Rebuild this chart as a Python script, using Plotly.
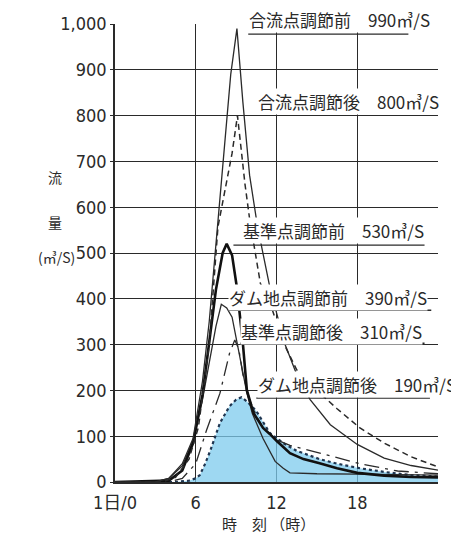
import plotly.graph_objects as go

# ---------------- data (hours from 1日 0時, discharge m3/s) ----------------
# 合流点調節前 (thin solid)
conf_before_h = [0, 3, 4, 5, 5.8, 6.5, 7, 7.6, 8.1, 8.6, 9.06, 9.5, 10, 10.5, 10.9, 11.5, 12, 12.6, 13.5, 14.5, 16, 18, 20, 22, 24]
conf_before_v = [0, 0, 8, 40, 95, 220, 350, 557, 720, 890, 990, 830, 670, 575, 513, 426, 370, 303, 235, 180, 125, 82, 52, 36, 26]
# 合流点調節後 (dashed)
conf_after_h = [0, 3.5, 4.5, 5.5, 6.2, 7, 7.65, 8.2, 8.7, 9.1, 9.4, 9.66, 10, 10.8, 11.7, 12.5, 13.5, 15, 16.5, 18.2, 20, 22, 24]
conf_after_v = [0, 0, 10, 50, 120, 300, 557, 644, 718, 800, 720, 650, 575, 434, 375, 305, 245, 200, 160, 118, 85, 55, 33]
# 基準点調節前 (thick solid)
base_before_h = [0, 4, 5, 5.8, 6.5, 7, 7.5, 8, 8.3, 8.7, 9.05, 9.5, 9.8, 10.3, 11, 11.5, 12, 13, 14, 15.2, 16.5, 18, 20, 22, 24]
base_before_v = [0, 3, 25, 85, 190, 300, 420, 500, 520, 495, 426, 303, 200, 150, 118, 105, 90, 63, 50, 41, 30, 20, 14, 11, 10]
# ダム地点調節前 (thin solid)
dam_before_h = [0, 3, 4, 5, 5.8, 6.5, 7, 7.5, 7.9, 8.3, 8.7, 9.3, 9.8, 10.2, 11, 11.9, 12.5, 13, 15, 18, 21, 24]
dam_before_v = [0, 0, 8, 35, 90, 180, 260, 340, 388, 380, 360, 266, 194, 150, 95, 45, 30, 20, 18, 17, 16, 15]
# 基準点調節後 (dash-dot)
base_after_h = [0, 4, 5, 6, 6.8, 7.8, 8.5, 8.9, 9.2, 9.5, 10, 10.5, 11, 12, 13, 15.2, 18.2, 21, 24]
base_after_v = [0, 0, 8, 40, 113, 194, 280, 310, 290, 235, 180, 145, 118, 92, 80, 63, 40, 24, 18]
# ダム地点調節後 (dotted, filled)
dam_after_h = [0, 4.5, 5.5, 6, 6.3, 6.7, 7.1, 7.8, 8.5, 9.0, 9.4, 9.8, 10.5, 11.5, 12.5, 13.5, 15.2, 16.5, 18.2, 20, 22, 24]
dam_after_v = [0, 0, 3, 8, 15, 40, 70, 129, 165, 180, 185, 176, 155, 107, 85, 68, 50, 40, 30, 22, 15, 12]

x_tickvals = [0, 6, 12, 18, 24]
x_ticktext = ["1日/0", "6", "12", "18", "2日/0"]
y_tickvals = [0, 100, 200, 300, 400, 500, 600, 700, 800, 900, 1000]
y_ticktext = ["0", "100", "200", "300", "400", "500", "600", "700", "800", "900", "1,000"]

# labels: name, peak text, anchor hour, anchor value, underline (h0, h1, v) or None
label_names = ["合流点調節前", "合流点調節後", "基準点調節前", "ダム地点調節前", "基準点調節後", "ダム地点調節後"]
label_peaks = ["990", "800", "530", "390", "310", "190"]
label_x = [9.88, 10.55, 9.43, 8.40, 9.29, 10.55]
label_y = [1009, 830, 550, 402, 328, 212]
underline_x0 = [9.9, None, 8.8, 8.4, 9.3, 10.5]
underline_x1 = [21.8, None, 23.0, 23.5, 23.0, 23.4]
underline_y = [978, None, 517, 375, 303, 183]

Y_MAX = 1000
INK = "#2a2a2a"
NARROW = "Liberation Sans Narrow, DejaVu Sans Condensed, Noto Sans CJK JP, sans-serif"
CJK = "Noto Sans CJK JP, sans-serif"

fig = go.Figure()

fig.add_trace(go.Scatter(x=dam_after_h, y=dam_after_v, mode="lines", fill="tozeroy",
                         fillcolor="rgba(125,203,238,0.75)",
                         line=dict(color="#1f3550", width=2.2, dash="dot")))
fig.add_trace(go.Scatter(x=base_after_h, y=base_after_v, mode="lines",
                         line=dict(color=INK, width=1.3, dash="longdashdot")))
fig.add_trace(go.Scatter(x=dam_before_h, y=dam_before_v, mode="lines",
                         line=dict(color=INK, width=1.3)))
fig.add_trace(go.Scatter(x=base_before_h, y=base_before_v, mode="lines",
                         line=dict(color="#111111", width=2.6)))
fig.add_trace(go.Scatter(x=conf_after_h, y=conf_after_v, mode="lines",
                         line=dict(color=INK, width=1.5, dash="6px,4px")))
fig.add_trace(go.Scatter(x=conf_before_h, y=conf_before_v, mode="lines",
                         line=dict(color=INK, width=1.3)))

for i, name in enumerate(label_names):
    if underline_y[i] is not None:
        fig.add_shape(type="line", xref="x", yref="y",
                      x0=underline_x0[i], x1=underline_x1[i], y0=underline_y[i], y1=underline_y[i],
                      line=dict(color=INK, width=1.3))
    fig.add_annotation(x=label_x[i], y=label_y[i] / Y_MAX, xref="x", yref="paper",
                       xanchor="left", yanchor="middle", showarrow=False,
                       text=name + "　" + label_peaks[i] + "㎥/S",
                       font=dict(family=CJK, size=17, color=INK),
                       bgcolor="white", borderpad=0)

# y axis title pieces
fig.add_annotation(x=-0.215, y=666 / Y_MAX, xref="paper", yref="paper", showarrow=False,
                   text="流", font=dict(family=CJK, size=14, color=INK))
fig.add_annotation(x=-0.215, y=568 / Y_MAX, xref="paper", yref="paper", showarrow=False,
                   text="量", font=dict(family=CJK, size=14, color=INK))
fig.add_annotation(x=-0.245, y=491 / Y_MAX, xref="paper", yref="paper", showarrow=False,
                   text="(㎥/S)", font=dict(family=CJK, size=14, color=INK))
# x axis title
fig.add_annotation(x=11.4, y=-0.09, xref="x", yref="paper", showarrow=False,
                   xanchor="center", yanchor="middle",
                   text="時　刻 （時）", font=dict(family=CJK, size=15, color=INK))

# page body adds an 8px margin; compensate so the plot lands where the reference has it
fig.update_layout(
    width=451, height=528,
    margin=dict(l=107, r=21, t=16, b=54, autoexpand=False),
    paper_bgcolor="white", plot_bgcolor="white",
    showlegend=False,
)
fig.update_xaxes(range=[0, 24], tickvals=x_tickvals, ticktext=x_ticktext,
                 showgrid=True, gridcolor=INK, gridwidth=1.3,
                 showline=True, linecolor=INK, linewidth=1.6,
                 ticks="", ticklen=0, ticklabelstandoff=4, zeroline=False,
                 tickfont=dict(family=NARROW, size=18, color=INK))
fig.update_yaxes(range=[0, Y_MAX], tickvals=y_tickvals, ticktext=y_ticktext,
                 showgrid=True, gridcolor=INK, gridwidth=1.3,
                 showline=True, linecolor=INK, linewidth=1.6,
                 ticks="outside", ticklen=3, tickcolor=INK, zeroline=False,
                 tickfont=dict(family=NARROW, size=18, color=INK))

fig.write_html("out.html")
